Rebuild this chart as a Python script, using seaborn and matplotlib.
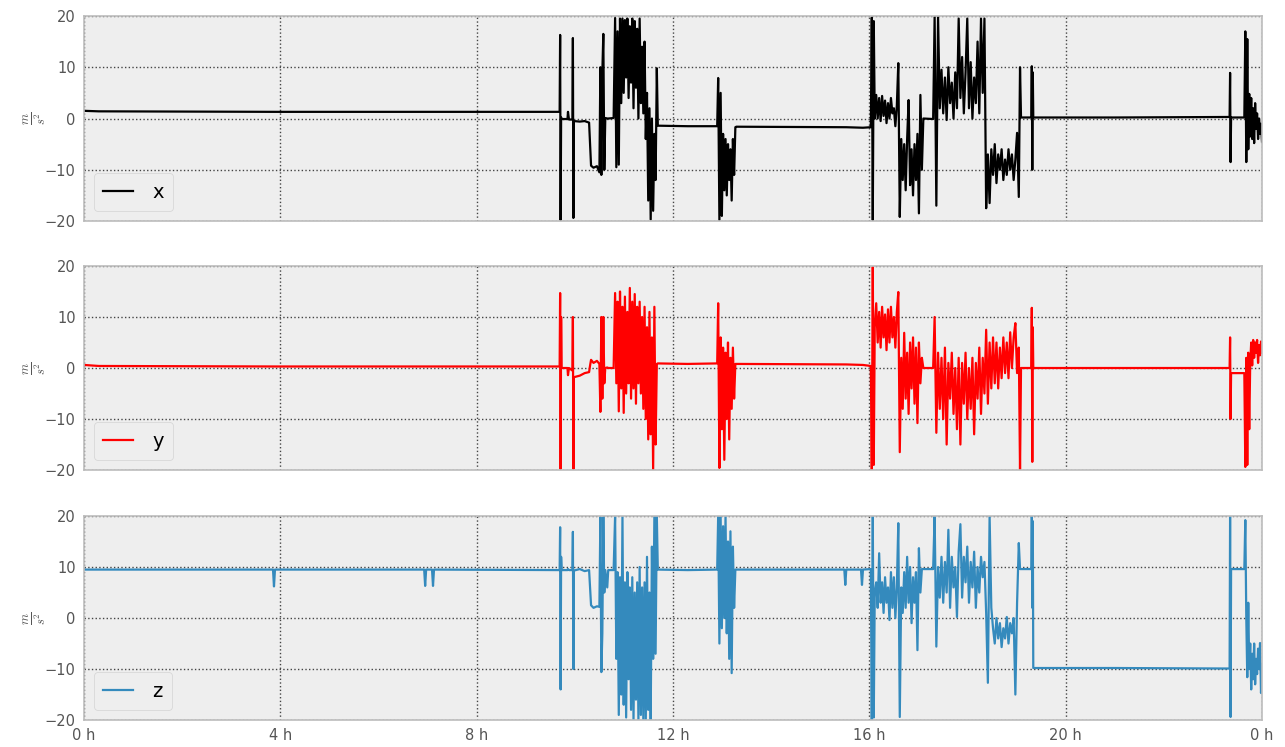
import pandas as pd
import seaborn as sns
import matplotlib
matplotlib.use('Agg')
import matplotlib.pyplot as plt

# time of day in hours, shared by the three accelerometer axes
hours = [
    0.0, 0.3, 3.85, 3.87, 3.89, 6.93, 6.95, 6.97, 7.09, 7.11, 7.13, 9.68,
    9.69, 9.70, 9.71, 9.72, 9.73, 9.85, 9.86, 9.88, 9.95, 9.96, 9.97, 9.98, 10.10, 10.20, 10.29,
    10.31, 10.33, 10.38, 10.45, 10.50, 10.52, 10.54, 10.56, 10.58, 10.60, 10.62, 10.66, 10.68, 10.79,
    10.820, 10.845, 10.870, 10.895, 10.920, 10.945, 10.970, 10.995, 11.020, 11.045,
    11.070, 11.095, 11.120, 11.145, 11.170, 11.195, 11.220, 11.245, 11.270, 11.295,
    11.320, 11.345, 11.370, 11.395, 11.420, 11.445, 11.470, 11.495, 11.520, 11.545,
    11.570, 11.595, 11.620, 11.645, 11.670,
    11.69, 12.30, 12.90,
    12.920, 12.945, 12.970, 12.995, 13.020, 13.045, 13.070, 13.095, 13.120, 13.145,
    13.170, 13.195, 13.220, 13.245, 13.270,
    13.29, 15.49, 15.51, 15.53, 15.83, 15.85, 15.87, 16.03,
    16.05, 16.07, 16.09, 16.11,
    16.14, 16.17, 16.20, 16.23, 16.26, 16.29, 16.32, 16.35, 16.38, 16.41,
    16.44, 16.47, 16.50, 16.53, 16.56, 16.59, 16.62, 16.65, 16.68, 16.71,
    16.74, 16.77, 16.80, 16.83, 16.86, 16.89, 16.92, 16.95, 16.98, 17.01,
    17.04, 17.07,
    17.10, 17.30,
    17.330, 17.365, 17.400, 17.435, 17.470, 17.505, 17.540, 17.575, 17.610, 17.645,
    17.680, 17.715, 17.750, 17.785, 17.820, 17.855, 17.890, 17.925, 17.960, 17.995,
    18.030, 18.065, 18.100, 18.135, 18.170, 18.205, 18.240, 18.275, 18.310, 18.345,
    18.380, 18.415, 18.450, 18.485, 18.520, 18.555, 18.590, 18.625, 18.660, 18.695,
    18.730, 18.765, 18.800, 18.835, 18.870, 18.905, 18.940, 18.975, 19.010, 19.045,
    19.07, 19.09, 19.30, 19.31, 19.32, 19.33, 19.34,
    21.00, 23.34,
    23.35, 23.36, 23.37, 23.64,
    23.66, 23.68, 23.70, 23.72, 23.74, 23.76, 23.78, 23.80, 23.82, 23.84,
    23.86, 23.88, 23.90, 23.92, 23.94, 23.96, 23.98, 24.00,
]

acc_x = [
    1.5, 1.4, 1.3, 1.3, 1.3, 1.3, 1.3, 1.3, 1.3, 1.3, 1.3, 1.3,
    1.3, 16.3, -19.8, 0.2, -0.1, -0.1, 1.3, -0.2, -0.2, 15.7, -19.4, -0.5, -0.6, -0.5, -0.8,
    -5.2, -9.2, -9.6, -9.3, -10.5, 10.0, -11.0, 9.0, 16.5, -10.0, 0.1, 0.0, 0.0, 0.1,
    19.6, -9.5, 17.0, -9.0, 19.5, 3.0, 19.5, 5.0, 19.2, 8.0,
    19.5, 4.0, 18.0, 7.0, 19.5, 2.0, 19.0, 6.0, 17.5, 0.0,
    19.5, 3.0, 14.0, 1.0, 15.0, -4.0, 5.0, -16.0, 2.0, -19.7,
    0.0, -18.0, -3.0, -12.0, 9.8,
    -1.4, -1.5, -1.5,
    7.9, -19.8, 5.0, -19.0, -3.0, -14.0, -4.0, -15.0, -5.0, -12.0,
    -6.0, -16.0, -4.0, -11.0, -1.7,
    -1.6, -1.7, -1.7, -1.7, -1.8, -1.8, -1.8, -1.7,
    19.7, -19.8, 19.0, 0.0,
    4.6, 0.0, 4.0, -0.5, 4.4, 0.5, 3.5, -0.9, 3.0, 0.0,
    4.0, 1.0, 2.0, -1.5, 2.5, 10.8, -19.2, -4.0, -12.0, -5.0,
    -14.0, -4.0, 3.6, -13.0, -6.0, -15.0, -5.0, -12.0, -3.0, -18.5,
    4.6, -10.0,
    0.0, -0.1,
    19.8, -17.0, 19.8, 2.0, 9.5, 1.0, 8.0, -0.3, 10.0, 3.0,
    7.0, 0.0, 9.0, 2.0, 19.5, 4.0, 12.0, 1.0, 9.0, 19.5,
    2.0, 11.0, 0.0, 8.0, 3.0, 15.0, 1.0, 19.5, 5.0, 19.5,
    -17.5, -7.0, -16.5, -6.0, -11.0, -5.0, -12.6, -7.0, -10.0, -6.0,
    -12.0, -8.0, -11.0, -6.0, -10.0, -7.0, -12.0, -8.0, -2.8, -15.3,
    10.0, 0.2, 0.2, 10.2, -10.0, 9.0, 0.2,
    0.2, 0.3,
    8.9, -8.5, 0.2, 0.2,
    17.0, -8.5, 15.5, -6.0, 4.8, -3.5, 4.0, -4.0, 2.0, -4.8,
    3.0, -2.0, 1.0, -4.0, 0.0, -3.0, -1.0, -4.5,
]

acc_y = [
    0.6, 0.4, 0.3, 0.3, 0.3, 0.3, 0.3, 0.3, 0.3, 0.3, 0.3, 0.3,
    0.3, 14.7, -19.8, 10.0, 0.0, 0.0, -1.4, 0.0, -0.5, 10.0, -19.8, -1.8, -1.5, -1.0, -0.8,
    0.5, 1.6, 1.0, 1.4, 0.8, -8.6, 10.0, -6.0, 10.0, -3.0, 0.0, 0.1, 0.0, 0.0,
    14.7, -3.0, 13.0, -8.5, 15.0, -4.0, 12.0, -8.8, 14.0, -5.0,
    11.0, -3.0, 15.7, -6.0, 13.0, -4.0, 14.5, -7.0, 12.0, -3.0,
    13.0, -5.0, 10.0, -8.0, 12.0, -10.0, 8.0, -14.0, 11.0, -13.0,
    6.0, -20.0, 12.0, -15.0, 0.8,
    0.9, 0.8, 0.9,
    12.7, -19.6, 6.0, -12.0, 4.0, -18.0, 3.0, -10.0, 5.0, -14.0,
    2.0, -8.0, 4.0, -6.0, 0.8,
    0.8, 0.7, 0.7, 0.7, 0.6, 0.6, 0.6, 0.4,
    -20.0, 19.8, -19.0, 8.0,
    12.7, 5.0, 11.0, 4.0, 12.0, 6.0, 10.5, 3.5, 11.5, 5.0,
    12.0, 6.0, 10.0, 4.0, 11.0, 14.9, -16.5, 2.0, -8.0, 6.9,
    -6.0, 3.0, -9.0, 5.0, -4.0, 6.0, -7.0, 4.0, -10.8, 5.0,
    -3.0, 2.0,
    0.0, 0.0,
    10.0, -12.7, 3.0, -8.0, 2.0, -10.0, 4.0, -15.0, 1.0, -6.0,
    3.0, -9.0, 0.0, -12.0, 2.0, -15.0, 1.0, -7.0, 3.0, -10.0,
    0.0, -8.0, 2.0, -13.0, 1.0, -6.0, 4.0, -9.0, 2.0, -5.0,
    7.5, -7.0, 5.0, -4.0, 6.0, -3.0, 5.0, -4.0, 4.0, -2.0,
    6.0, -1.0, 5.0, -2.0, 7.0, 0.0, 6.0, 8.8, -1.0, 4.0,
    -20.0, 0.0, 0.0, 11.8, -18.4, 8.0, 0.0,
    0.0, 0.0,
    6.0, -10.0, -1.0, -1.0,
    -19.4, 2.0, -19.0, 3.0, -12.0, 1.0, 5.0, 0.5, 5.5, 2.0,
    5.0, 3.0, 5.5, 1.0, 4.5, 2.5, 5.2, 3.0,
]

acc_z = [
    9.5, 9.5, 9.5, 6.2, 9.5, 9.5, 6.3, 9.5, 9.5, 6.3, 9.5, 9.4,
    9.4, 17.8, -14.0, 12.0, 9.4, 9.4, 9.6, 9.4, 9.4, 16.9, -10.0, 9.3, 9.6, 9.2, 9.4,
    6.0, 2.5, 2.0, 2.3, 2.2, 19.8, -10.6, -3.0, 19.8, 5.0, 9.4, 6.0, 9.4, 9.4,
    20.0, -8.0, 9.0, -19.0, 8.0, -15.0, 20.0, -17.0, 7.0, -19.5,
    9.0, -12.0, 6.0, -18.0, 8.0, -20.0, 5.0, -16.0, 7.0, -20.0,
    10.0, -19.0, 6.0, -20.0, 7.0, -20.0, 12.0, -18.0, 5.0, -20.0,
    14.0, -8.0, 20.0, -7.0, 20.0,
    9.5, 9.4, 9.5,
    20.0, -5.0, 19.8, -2.0, 18.0, 0.0, 20.0, -3.0, 15.0, -8.0,
    17.0, -10.8, 14.0, 2.0, 9.5,
    9.5, 9.5, 6.5, 9.5, 9.5, 6.5, 9.5, 9.6,
    -20.0, 20.0, -19.5, 5.0,
    7.0, 2.0, 12.7, 3.0, 7.0, 1.0, 8.0, 3.0, 6.0, -0.4,
    9.0, 2.0, 8.0, 0.0, 6.0, 18.6, -19.4, 6.0, 1.0, 9.0,
    2.0, 12.0, 3.0, 10.0, -1.0, 8.0, 3.0, 9.0, -6.3, 13.7,
    5.0, 9.6,
    9.6, 9.6,
    20.0, -5.6, 10.0, 4.0, 12.0, 3.0, 11.0, 5.0, 17.3, 2.0,
    12.0, 6.0, 10.0, 0.2, 13.0, 18.4, 4.0, 12.0, 7.0, 14.0,
    3.0, 11.0, 6.0, 13.0, 2.0, 10.0, 5.0, 12.0, 8.0, 11.0,
    1.0, -12.7, 20.0, 2.0, -2.0, -5.0, 0.0, -4.0, -1.0, -5.7,
    -2.0, -4.0, 0.2, -5.0, -1.0, -3.0, 0.0, -15.0, 3.0, 14.7,
    9.6, 9.6, 9.6, 20.0, 2.0, 19.0, -9.8,
    -9.8, -9.9,
    20.0, -19.4, 9.6, 9.6,
    19.2, 0.0, -11.6, 3.0, -10.0, -5.0, -14.0, -7.0, -12.0, -5.0,
    -13.0, -8.0, -11.0, -6.0, -10.0, -4.9, -14.7, -9.0,
]

axis_names = ['x', 'y', 'z']
axis_colors = ['black', 'red', '#348ABD']
tick_hours = [0, 4, 8, 12, 16, 20, 24]
tick_labels = ['0 h', '4 h', '8 h', '12 h', '16 h', '20 h', '0 h']

df = pd.DataFrame({'hours': hours, 'x': acc_x, 'y': acc_y, 'z': acc_z})

plt.style.use('bmh')

fig = plt.figure(figsize=(12.85, 7.47), dpi=100)
rects = [
    [0.0654, 0.7041, 0.9167, 0.2745],
    [0.0654, 0.3708, 0.9167, 0.2731],
    [0.0654, 0.0361, 0.9167, 0.2731],
]

axes = []
for i, name in enumerate(axis_names):
    ax = fig.add_axes(rects[i], sharex=axes[0] if axes else None)
    sns.lineplot(data=df, x='hours', y=name, color=axis_colors[i], lw=1.6,
                 estimator=None, sort=False, label=name, ax=ax)
    ax.set_facecolor('#eeeeee')
    ax.set_xlim(0, 24)
    ax.set_ylim(-20, 20)
    ax.set_yticks([-20, -10, 0, 10, 20])
    ax.set_xticks(tick_hours)
    ax.grid(True, linestyle=':', color='#444444', linewidth=1.0)
    ax.tick_params(length=0, labelsize=10.5, colors='#555555', pad=6)
    for sp in ax.spines.values():
        sp.set_color('#bcbcbc')
        sp.set_linewidth(1.2)
    ax.set_xlabel('')
    ax.set_ylabel(r'$\frac{m}{s^2}$', fontsize=13, color='#555555')
    ax.yaxis.set_label_coords(-0.031, 0.5)
    leg = ax.legend(loc='lower left', fontsize=14, handlelength=1.5,
                    handletextpad=1.0, borderpad=0.5, fancybox=True)
    leg.get_frame().set_facecolor('#eeeeee')
    leg.get_frame().set_edgecolor('#cccccc')
    if i < 2:
        ax.tick_params(labelbottom=False)
    else:
        ax.set_xticklabels(tick_labels)
    axes.append(ax)

fig.savefig('out.png', dpi=100)
